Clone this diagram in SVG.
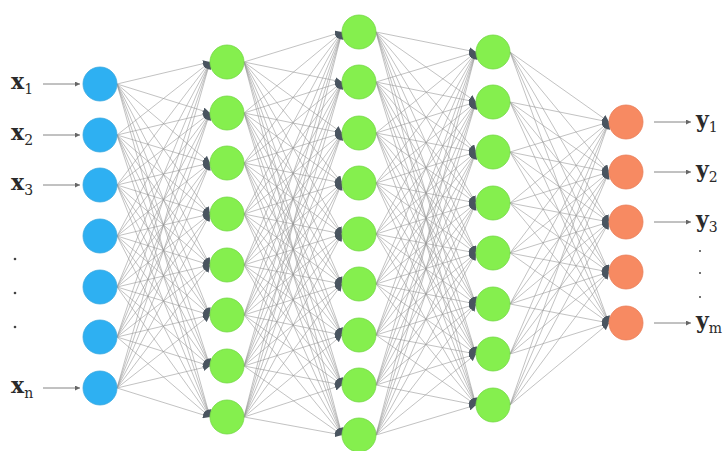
<svg xmlns="http://www.w3.org/2000/svg" width="725" height="451" viewBox="0 0 725 451">
<style>
.bg{fill:#ffffff}
.c line{stroke:#999;stroke-width:0.6;marker-end:url(#ah)}
.in{fill:#2eb0f2;stroke:#3aa8e0;stroke-width:0.8}
.hid{fill:#85ef4e;stroke:#74d845;stroke-width:0.8}
.out{fill:#f78a62;stroke:#ea7d58;stroke-width:0.8}
.lbl{font-family:"DejaVu Serif","Liberation Serif",serif;font-size:22px;fill:#2a2a2a;font-weight:600}
.sub{font-size:14px;font-weight:400}
.io{stroke:#666;stroke-width:0.8;marker-end:url(#ah2)}
.dot{fill:#444}
</style>
<defs>
<marker id="ah" markerUnits="userSpaceOnUse" markerWidth="8" markerHeight="7" refX="7" refY="3.5" orient="auto"><path d="M0,0 L7,3.5 L0,7 z" fill="#4a5560"/></marker>
<marker id="ah2" markerUnits="userSpaceOnUse" markerWidth="6" markerHeight="5" refX="5" refY="2.5" orient="auto"><path d="M0,0 L5,2.5 L0,5 z" fill="#666"/></marker>
</defs>
<rect class="bg" width="725" height="451"/>
<g id="connectors" class="c">
<line x1="117" y1="84" x2="210" y2="62"/><line x1="117" y1="84" x2="210" y2="113"/><line x1="117" y1="84" x2="210" y2="163"/><line x1="117" y1="84" x2="210" y2="214"/><line x1="117" y1="84" x2="210" y2="265"/><line x1="117" y1="84" x2="210" y2="315"/><line x1="117" y1="84" x2="210" y2="366"/><line x1="117" y1="84" x2="210" y2="417"/>
<line x1="117" y1="135" x2="210" y2="62"/><line x1="117" y1="135" x2="210" y2="113"/><line x1="117" y1="135" x2="210" y2="163"/><line x1="117" y1="135" x2="210" y2="214"/><line x1="117" y1="135" x2="210" y2="265"/><line x1="117" y1="135" x2="210" y2="315"/><line x1="117" y1="135" x2="210" y2="366"/><line x1="117" y1="135" x2="210" y2="417"/>
<line x1="117" y1="185" x2="210" y2="62"/><line x1="117" y1="185" x2="210" y2="113"/><line x1="117" y1="185" x2="210" y2="163"/><line x1="117" y1="185" x2="210" y2="214"/><line x1="117" y1="185" x2="210" y2="265"/><line x1="117" y1="185" x2="210" y2="315"/><line x1="117" y1="185" x2="210" y2="366"/><line x1="117" y1="185" x2="210" y2="417"/>
<line x1="117" y1="236" x2="210" y2="62"/><line x1="117" y1="236" x2="210" y2="113"/><line x1="117" y1="236" x2="210" y2="163"/><line x1="117" y1="236" x2="210" y2="214"/><line x1="117" y1="236" x2="210" y2="265"/><line x1="117" y1="236" x2="210" y2="315"/><line x1="117" y1="236" x2="210" y2="366"/><line x1="117" y1="236" x2="210" y2="417"/>
<line x1="117" y1="287" x2="210" y2="62"/><line x1="117" y1="287" x2="210" y2="113"/><line x1="117" y1="287" x2="210" y2="163"/><line x1="117" y1="287" x2="210" y2="214"/><line x1="117" y1="287" x2="210" y2="265"/><line x1="117" y1="287" x2="210" y2="315"/><line x1="117" y1="287" x2="210" y2="366"/><line x1="117" y1="287" x2="210" y2="417"/>
<line x1="117" y1="337" x2="210" y2="62"/><line x1="117" y1="337" x2="210" y2="113"/><line x1="117" y1="337" x2="210" y2="163"/><line x1="117" y1="337" x2="210" y2="214"/><line x1="117" y1="337" x2="210" y2="265"/><line x1="117" y1="337" x2="210" y2="315"/><line x1="117" y1="337" x2="210" y2="366"/><line x1="117" y1="337" x2="210" y2="417"/>
<line x1="117" y1="388" x2="210" y2="62"/><line x1="117" y1="388" x2="210" y2="113"/><line x1="117" y1="388" x2="210" y2="163"/><line x1="117" y1="388" x2="210" y2="214"/><line x1="117" y1="388" x2="210" y2="265"/><line x1="117" y1="388" x2="210" y2="315"/><line x1="117" y1="388" x2="210" y2="366"/><line x1="117" y1="388" x2="210" y2="417"/>

<line x1="244" y1="62" x2="342" y2="32"/><line x1="244" y1="62" x2="342" y2="82"/><line x1="244" y1="62" x2="342" y2="133"/><line x1="244" y1="62" x2="342" y2="183"/><line x1="244" y1="62" x2="342" y2="234"/><line x1="244" y1="62" x2="342" y2="284"/><line x1="244" y1="62" x2="342" y2="335"/><line x1="244" y1="62" x2="342" y2="385"/><line x1="244" y1="62" x2="342" y2="435"/>
<line x1="244" y1="113" x2="342" y2="32"/><line x1="244" y1="113" x2="342" y2="82"/><line x1="244" y1="113" x2="342" y2="133"/><line x1="244" y1="113" x2="342" y2="183"/><line x1="244" y1="113" x2="342" y2="234"/><line x1="244" y1="113" x2="342" y2="284"/><line x1="244" y1="113" x2="342" y2="335"/><line x1="244" y1="113" x2="342" y2="385"/><line x1="244" y1="113" x2="342" y2="435"/>
<line x1="244" y1="163" x2="342" y2="32"/><line x1="244" y1="163" x2="342" y2="82"/><line x1="244" y1="163" x2="342" y2="133"/><line x1="244" y1="163" x2="342" y2="183"/><line x1="244" y1="163" x2="342" y2="234"/><line x1="244" y1="163" x2="342" y2="284"/><line x1="244" y1="163" x2="342" y2="335"/><line x1="244" y1="163" x2="342" y2="385"/><line x1="244" y1="163" x2="342" y2="435"/>
<line x1="244" y1="214" x2="342" y2="32"/><line x1="244" y1="214" x2="342" y2="82"/><line x1="244" y1="214" x2="342" y2="133"/><line x1="244" y1="214" x2="342" y2="183"/><line x1="244" y1="214" x2="342" y2="234"/><line x1="244" y1="214" x2="342" y2="284"/><line x1="244" y1="214" x2="342" y2="335"/><line x1="244" y1="214" x2="342" y2="385"/><line x1="244" y1="214" x2="342" y2="435"/>
<line x1="244" y1="265" x2="342" y2="32"/><line x1="244" y1="265" x2="342" y2="82"/><line x1="244" y1="265" x2="342" y2="133"/><line x1="244" y1="265" x2="342" y2="183"/><line x1="244" y1="265" x2="342" y2="234"/><line x1="244" y1="265" x2="342" y2="284"/><line x1="244" y1="265" x2="342" y2="335"/><line x1="244" y1="265" x2="342" y2="385"/><line x1="244" y1="265" x2="342" y2="435"/>
<line x1="244" y1="315" x2="342" y2="32"/><line x1="244" y1="315" x2="342" y2="82"/><line x1="244" y1="315" x2="342" y2="133"/><line x1="244" y1="315" x2="342" y2="183"/><line x1="244" y1="315" x2="342" y2="234"/><line x1="244" y1="315" x2="342" y2="284"/><line x1="244" y1="315" x2="342" y2="335"/><line x1="244" y1="315" x2="342" y2="385"/><line x1="244" y1="315" x2="342" y2="435"/>
<line x1="244" y1="366" x2="342" y2="32"/><line x1="244" y1="366" x2="342" y2="82"/><line x1="244" y1="366" x2="342" y2="133"/><line x1="244" y1="366" x2="342" y2="183"/><line x1="244" y1="366" x2="342" y2="234"/><line x1="244" y1="366" x2="342" y2="284"/><line x1="244" y1="366" x2="342" y2="335"/><line x1="244" y1="366" x2="342" y2="385"/><line x1="244" y1="366" x2="342" y2="435"/>
<line x1="244" y1="417" x2="342" y2="32"/><line x1="244" y1="417" x2="342" y2="82"/><line x1="244" y1="417" x2="342" y2="133"/><line x1="244" y1="417" x2="342" y2="183"/><line x1="244" y1="417" x2="342" y2="234"/><line x1="244" y1="417" x2="342" y2="284"/><line x1="244" y1="417" x2="342" y2="335"/><line x1="244" y1="417" x2="342" y2="385"/><line x1="244" y1="417" x2="342" y2="435"/>

<line x1="376" y1="32" x2="476" y2="52"/><line x1="376" y1="32" x2="476" y2="102"/><line x1="376" y1="32" x2="476" y2="152"/><line x1="376" y1="32" x2="476" y2="203"/><line x1="376" y1="32" x2="476" y2="253"/><line x1="376" y1="32" x2="476" y2="304"/><line x1="376" y1="32" x2="476" y2="354"/><line x1="376" y1="32" x2="476" y2="405"/>
<line x1="376" y1="82" x2="476" y2="52"/><line x1="376" y1="82" x2="476" y2="102"/><line x1="376" y1="82" x2="476" y2="152"/><line x1="376" y1="82" x2="476" y2="203"/><line x1="376" y1="82" x2="476" y2="253"/><line x1="376" y1="82" x2="476" y2="304"/><line x1="376" y1="82" x2="476" y2="354"/><line x1="376" y1="82" x2="476" y2="405"/>
<line x1="376" y1="133" x2="476" y2="52"/><line x1="376" y1="133" x2="476" y2="102"/><line x1="376" y1="133" x2="476" y2="152"/><line x1="376" y1="133" x2="476" y2="203"/><line x1="376" y1="133" x2="476" y2="253"/><line x1="376" y1="133" x2="476" y2="304"/><line x1="376" y1="133" x2="476" y2="354"/><line x1="376" y1="133" x2="476" y2="405"/>
<line x1="376" y1="183" x2="476" y2="52"/><line x1="376" y1="183" x2="476" y2="102"/><line x1="376" y1="183" x2="476" y2="152"/><line x1="376" y1="183" x2="476" y2="203"/><line x1="376" y1="183" x2="476" y2="253"/><line x1="376" y1="183" x2="476" y2="304"/><line x1="376" y1="183" x2="476" y2="354"/><line x1="376" y1="183" x2="476" y2="405"/>
<line x1="376" y1="234" x2="476" y2="52"/><line x1="376" y1="234" x2="476" y2="102"/><line x1="376" y1="234" x2="476" y2="152"/><line x1="376" y1="234" x2="476" y2="203"/><line x1="376" y1="234" x2="476" y2="253"/><line x1="376" y1="234" x2="476" y2="304"/><line x1="376" y1="234" x2="476" y2="354"/><line x1="376" y1="234" x2="476" y2="405"/>
<line x1="376" y1="284" x2="476" y2="52"/><line x1="376" y1="284" x2="476" y2="102"/><line x1="376" y1="284" x2="476" y2="152"/><line x1="376" y1="284" x2="476" y2="203"/><line x1="376" y1="284" x2="476" y2="253"/><line x1="376" y1="284" x2="476" y2="304"/><line x1="376" y1="284" x2="476" y2="354"/><line x1="376" y1="284" x2="476" y2="405"/>
<line x1="376" y1="335" x2="476" y2="52"/><line x1="376" y1="335" x2="476" y2="102"/><line x1="376" y1="335" x2="476" y2="152"/><line x1="376" y1="335" x2="476" y2="203"/><line x1="376" y1="335" x2="476" y2="253"/><line x1="376" y1="335" x2="476" y2="304"/><line x1="376" y1="335" x2="476" y2="354"/><line x1="376" y1="335" x2="476" y2="405"/>
<line x1="376" y1="385" x2="476" y2="52"/><line x1="376" y1="385" x2="476" y2="102"/><line x1="376" y1="385" x2="476" y2="152"/><line x1="376" y1="385" x2="476" y2="203"/><line x1="376" y1="385" x2="476" y2="253"/><line x1="376" y1="385" x2="476" y2="304"/><line x1="376" y1="385" x2="476" y2="354"/><line x1="376" y1="385" x2="476" y2="405"/>
<line x1="376" y1="435" x2="476" y2="52"/><line x1="376" y1="435" x2="476" y2="102"/><line x1="376" y1="435" x2="476" y2="152"/><line x1="376" y1="435" x2="476" y2="203"/><line x1="376" y1="435" x2="476" y2="253"/><line x1="376" y1="435" x2="476" y2="304"/><line x1="376" y1="435" x2="476" y2="354"/><line x1="376" y1="435" x2="476" y2="405"/>

<line x1="510" y1="52" x2="609" y2="122"/><line x1="510" y1="52" x2="609" y2="172"/><line x1="510" y1="52" x2="609" y2="222"/><line x1="510" y1="52" x2="609" y2="272"/><line x1="510" y1="52" x2="609" y2="323"/>
<line x1="510" y1="102" x2="609" y2="122"/><line x1="510" y1="102" x2="609" y2="172"/><line x1="510" y1="102" x2="609" y2="222"/><line x1="510" y1="102" x2="609" y2="272"/><line x1="510" y1="102" x2="609" y2="323"/>
<line x1="510" y1="152" x2="609" y2="122"/><line x1="510" y1="152" x2="609" y2="172"/><line x1="510" y1="152" x2="609" y2="222"/><line x1="510" y1="152" x2="609" y2="272"/><line x1="510" y1="152" x2="609" y2="323"/>
<line x1="510" y1="203" x2="609" y2="122"/><line x1="510" y1="203" x2="609" y2="172"/><line x1="510" y1="203" x2="609" y2="222"/><line x1="510" y1="203" x2="609" y2="272"/><line x1="510" y1="203" x2="609" y2="323"/>
<line x1="510" y1="253" x2="609" y2="122"/><line x1="510" y1="253" x2="609" y2="172"/><line x1="510" y1="253" x2="609" y2="222"/><line x1="510" y1="253" x2="609" y2="272"/><line x1="510" y1="253" x2="609" y2="323"/>
<line x1="510" y1="304" x2="609" y2="122"/><line x1="510" y1="304" x2="609" y2="172"/><line x1="510" y1="304" x2="609" y2="222"/><line x1="510" y1="304" x2="609" y2="272"/><line x1="510" y1="304" x2="609" y2="323"/>
<line x1="510" y1="354" x2="609" y2="122"/><line x1="510" y1="354" x2="609" y2="172"/><line x1="510" y1="354" x2="609" y2="222"/><line x1="510" y1="354" x2="609" y2="272"/><line x1="510" y1="354" x2="609" y2="323"/>
<line x1="510" y1="405" x2="609" y2="122"/><line x1="510" y1="405" x2="609" y2="172"/><line x1="510" y1="405" x2="609" y2="222"/><line x1="510" y1="405" x2="609" y2="272"/><line x1="510" y1="405" x2="609" y2="323"/>
</g>
<g id="io-arrows">
<line class="io" x1="43" y1="84" x2="80" y2="84"/>
<line class="io" x1="43" y1="135" x2="80" y2="135"/>
<line class="io" x1="43" y1="185" x2="80" y2="185"/>
<line class="io" x1="43" y1="388" x2="80" y2="388"/>
<line class="io" x1="654" y1="122" x2="691" y2="122"/>
<line class="io" x1="654" y1="172" x2="691" y2="172"/>
<line class="io" x1="654" y1="222" x2="691" y2="222"/>
<line class="io" x1="654" y1="323" x2="691" y2="323"/>
</g>
<g id="input-layer">
<g id="in1"><circle class="in" cx="100" cy="84" r="17"/></g>
<g id="in2"><circle class="in" cx="100" cy="135" r="17"/></g>
<g id="in3"><circle class="in" cx="100" cy="185" r="17"/></g>
<g id="in4"><circle class="in" cx="100" cy="236" r="17"/></g>
<g id="in5"><circle class="in" cx="100" cy="287" r="17"/></g>
<g id="in6"><circle class="in" cx="100" cy="337" r="17"/></g>
<g id="in7"><circle class="in" cx="100" cy="388" r="17"/></g>
</g>
<g id="hidden1">
<g id="h1_1"><circle class="hid" cx="227" cy="62" r="17"/></g>
<g id="h1_2"><circle class="hid" cx="227" cy="113" r="17"/></g>
<g id="h1_3"><circle class="hid" cx="227" cy="163" r="17"/></g>
<g id="h1_4"><circle class="hid" cx="227" cy="214" r="17"/></g>
<g id="h1_5"><circle class="hid" cx="227" cy="265" r="17"/></g>
<g id="h1_6"><circle class="hid" cx="227" cy="315" r="17"/></g>
<g id="h1_7"><circle class="hid" cx="227" cy="366" r="17"/></g>
<g id="h1_8"><circle class="hid" cx="227" cy="417" r="17"/></g>
</g>
<g id="hidden2">
<g id="h2_1"><circle class="hid" cx="359" cy="32" r="17"/></g>
<g id="h2_2"><circle class="hid" cx="359" cy="82" r="17"/></g>
<g id="h2_3"><circle class="hid" cx="359" cy="133" r="17"/></g>
<g id="h2_4"><circle class="hid" cx="359" cy="183" r="17"/></g>
<g id="h2_5"><circle class="hid" cx="359" cy="234" r="17"/></g>
<g id="h2_6"><circle class="hid" cx="359" cy="284" r="17"/></g>
<g id="h2_7"><circle class="hid" cx="359" cy="335" r="17"/></g>
<g id="h2_8"><circle class="hid" cx="359" cy="385" r="17"/></g>
<g id="h2_9"><circle class="hid" cx="359" cy="435" r="17"/></g>
</g>
<g id="hidden3">
<g id="h3_1"><circle class="hid" cx="493" cy="52" r="17"/></g>
<g id="h3_2"><circle class="hid" cx="493" cy="102" r="17"/></g>
<g id="h3_3"><circle class="hid" cx="493" cy="152" r="17"/></g>
<g id="h3_4"><circle class="hid" cx="493" cy="203" r="17"/></g>
<g id="h3_5"><circle class="hid" cx="493" cy="253" r="17"/></g>
<g id="h3_6"><circle class="hid" cx="493" cy="304" r="17"/></g>
<g id="h3_7"><circle class="hid" cx="493" cy="354" r="17"/></g>
<g id="h3_8"><circle class="hid" cx="493" cy="405" r="17"/></g>
</g>
<g id="output-layer">
<g id="out1"><circle class="out" cx="626" cy="122" r="17"/></g>
<g id="out2"><circle class="out" cx="626" cy="172" r="17"/></g>
<g id="out3"><circle class="out" cx="626" cy="222" r="17"/></g>
<g id="out4"><circle class="out" cx="626" cy="272" r="17"/></g>
<g id="out5"><circle class="out" cx="626" cy="323" r="17"/></g>
</g>
<g id="input-labels">
<text class="lbl" x="11" y="89">x<tspan class="sub" dy="5">1</tspan></text>
<text class="lbl" x="11" y="140">x<tspan class="sub" dy="5">2</tspan></text>
<text class="lbl" x="11" y="190">x<tspan class="sub" dy="5">3</tspan></text>
<text class="lbl" x="11" y="393">x<tspan class="sub" dy="5">n</tspan></text>
<circle class="dot" cx="15" cy="259" r="1.3"/>
<circle class="dot" cx="15" cy="293" r="1.3"/>
<circle class="dot" cx="15" cy="327" r="1.3"/>
</g>
<g id="output-labels">
<text class="lbl" x="696" y="127">y<tspan class="sub" dy="5">1</tspan></text>
<text class="lbl" x="696" y="177">y<tspan class="sub" dy="5">2</tspan></text>
<text class="lbl" x="696" y="227">y<tspan class="sub" dy="5">3</tspan></text>
<text class="lbl" x="696" y="328">y<tspan class="sub" dy="5">m</tspan></text>
<circle class="dot" cx="700" cy="251" r="1"/>
<circle class="dot" cx="700" cy="273" r="1"/>
<circle class="dot" cx="700" cy="297" r="1"/>
</g>
</svg>
